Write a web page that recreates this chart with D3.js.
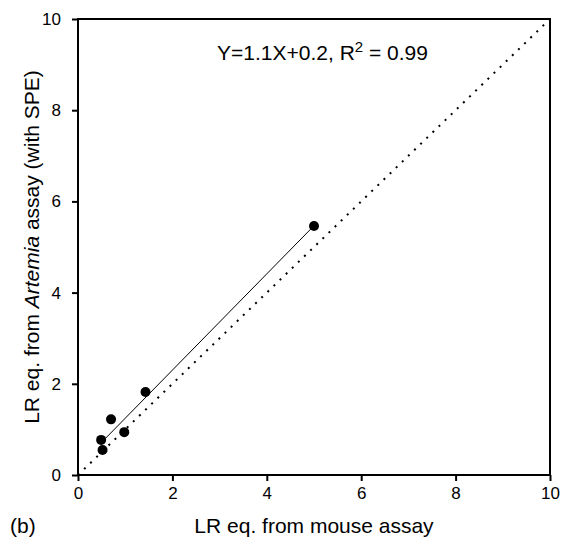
<!DOCTYPE html>
<html>
<head>
<meta charset="utf-8">
<script src="https://cdn.jsdelivr.net/npm/d3@7"></script>
<style>
  body { margin: 0; background: #fff; }
  text { font-family: "Liberation Sans", Arial, sans-serif; fill: #000; }
</style>
</head>
<body>
<div id="chart"></div>
<script>
// data
const mouseLR   = [0.49, 0.52, 0.70, 0.98, 1.43, 5.00];
const artemiaLR = [0.77, 0.55, 1.22, 0.94, 1.82, 5.46];
const xTicks = [0, 2, 4, 6, 8, 10];
const yTicks = [0, 2, 4, 6, 8, 10];
const identity = [0, 10];

const W = 562, H = 537;
const margin = { top: 19, right: 12, bottom: 62, left: 78 };
const width = W - margin.left - margin.right;
const height = H - margin.top - margin.bottom;

const svg = d3.select("#chart")
  .append("svg")
  .attr("width", W)
  .attr("height", H)
  .append("g")
  .attr("transform", `translate(${margin.left},${margin.top})`);

const x = d3.scaleLinear().domain([0, 10]).range([0, width]);
const y = d3.scaleLinear().domain([0, 10]).range([height, 0]);

const points = mouseLR.map((v, i) => ({ x: v, y: artemiaLR[i] }));

// y = x reference line
svg.append("path")
  .datum(identity)
  .attr("fill", "none")
  .attr("stroke", "#000")
  .attr("stroke-width", 2)
  .attr("stroke-dasharray", "2,6.5")
  .attr("d", d3.line().x(d => x(d)).y(d => y(d)));

// least squares fit
const mx = d3.mean(mouseLR), my = d3.mean(artemiaLR);
const slope = d3.sum(points, d => (d.x - mx) * (d.y - my)) / d3.sum(points, d => (d.x - mx) ** 2);
const icept = my - slope * mx;
const fitX = d3.extent(mouseLR);

svg.append("path")
  .datum(fitX)
  .attr("fill", "none")
  .attr("stroke", "#000")
  .attr("stroke-width", 1)
  .attr("d", d3.line().x(d => x(d)).y(d => y(slope * d + icept)));

svg.selectAll("circle")
  .data(points)
  .join("circle")
  .attr("cx", d => x(d.x))
  .attr("cy", d => y(d.y))
  .attr("r", 5)
  .attr("fill", "#000");

// frame
svg.append("rect")
  .attr("width", width)
  .attr("height", height)
  .attr("fill", "none")
  .attr("stroke", "#000")
  .attr("stroke-width", 2);

// axes
const xAxis = svg.append("g")
  .attr("transform", `translate(0,${height})`)
  .call(d3.axisBottom(x).tickValues(xTicks).tickSize(6).tickPadding(6));
const yAxis = svg.append("g")
  .call(d3.axisLeft(y).tickValues(yTicks).tickSize(6).tickPadding(11));

[xAxis, yAxis].forEach(a => {
  a.select(".domain").remove();
  a.selectAll("line").attr("stroke-width", 2);
  a.selectAll("text")
    .style("font-family", '"Liberation Sans", Arial, sans-serif')
    .style("font-size", "17px");
});

// annotation
const note = svg.append("text")
  .attr("x", x(5.18))
  .attr("y", 41)
  .attr("text-anchor", "middle")
  .style("font-size", "21px");
note.append("tspan").text("Y=1.1X+0.2, R");
note.append("tspan").attr("dy", -8).style("font-size", "15px").text("2");
note.append("tspan").attr("dy", 8).text(" = 0.99");

// axis titles
svg.append("text")
  .attr("x", width / 2)
  .attr("y", height + 58)
  .attr("text-anchor", "middle")
  .style("font-size", "21px")
  .text("LR eq. from mouse assay");

const yl = svg.append("text")
  .attr("transform", `translate(-39,${height / 2}) rotate(-90)`)
  .attr("text-anchor", "middle")
  .style("font-size", "21px");
yl.append("tspan").text("LR eq. from ");
yl.append("tspan").style("font-style", "italic").text("Artemia");
yl.append("tspan").text(" assay (with SPE)");

svg.append("text")
  .attr("x", -68)
  .attr("y", height + 58)
  .style("font-size", "21px")
  .text("(b)");
</script>
</body>
</html>
